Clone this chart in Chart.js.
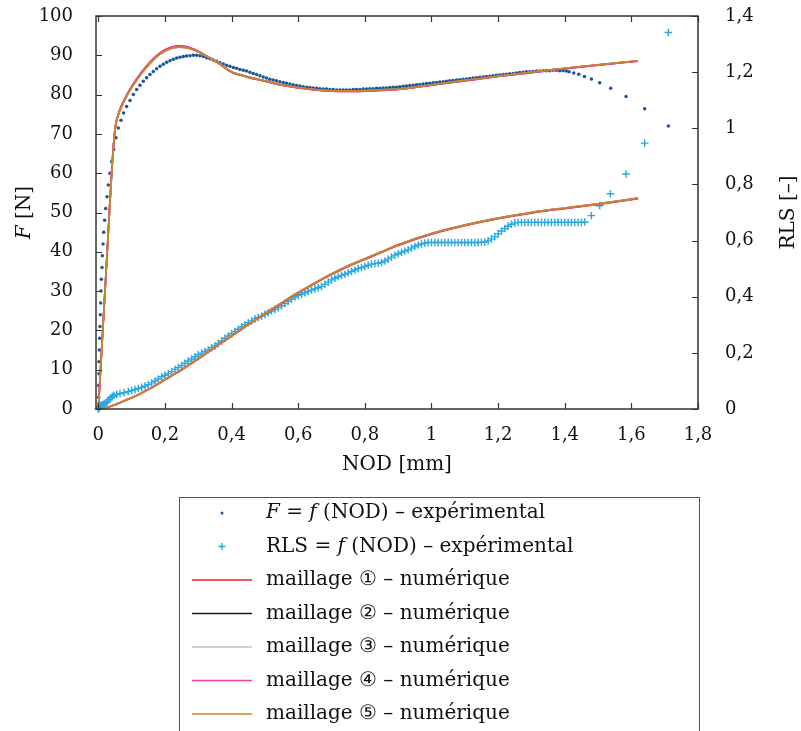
<!DOCTYPE html>
<html>
<head>
<meta charset="utf-8">
<script src="https://cdn.jsdelivr.net/npm/chart.js@4"></script>
<style>
  html, body { margin: 0; padding: 0; background: #fff; }
  #chart { display: block; }
</style>
</head>
<body>
<canvas id="chart" width="801" height="731"></canvas>
<script>
// axis ticks
const xTicks = [0, 0.2, 0.4, 0.6, 0.8, 1, 1.2, 1.4, 1.6, 1.8];
const fTicks = [0, 10, 20, 30, 40, 50, 60, 70, 80, 90, 100];
const rlsTicks = [0, 0.2, 0.4, 0.6, 0.8, 1, 1.2, 1.4];

// experimental F = f(NOD), [NOD mm, F N]
const expForce = [
  [0,0],[0.001,3],[0.001,6],[0.002,9],[0.002,12],[0.003,15],[0.004,18],[0.005,21],[0.006,24],[0.007,27],
  [0.008,30],[0.009,33],[0.011,36],[0.012,39],[0.014,42],[0.016,45],[0.019,48],[0.022,51],[0.026,54],[0.030,57],
  [0.035,60],[0.040,63],[0.046,66],[0.053,69],[0.060,71.5],[0.068,73.5],[0.076,75.3],[0.085,77],[0.095,78.5],
  [0.105,80],[0.115,81.3],[0.125,82.4],[0.135,83.4],[0.145,84.3],[0.155,85.1],[0.165,85.9],[0.175,86.6],
  [0.185,87.2],[0.195,87.7],[0.205,88.2],[0.215,88.6],[0.225,89.0],[0.235,89.3],[0.245,89.5],[0.255,89.7],
  [0.265,89.8],[0.275,89.9],[0.285,90.0],[0.295,90.0],[0.305,89.9],[0.315,89.7],[0.325,89.4],[0.335,89.1],
  [0.345,88.8],[0.355,88.5],[0.365,88.1],[0.375,87.8],[0.385,87.5],[0.395,87.2],[0.405,86.9],[0.415,86.7],
  [0.425,86.4],[0.435,86.2],[0.445,86.0],[0.455,85.7],[0.465,85.4],[0.475,85.1],[0.485,84.8],[0.495,84.5],
  [0.505,84.2],[0.515,83.9],[0.525,83.7],[0.535,83.5],[0.545,83.3],[0.555,83.1],[0.565,82.9],[0.575,82.7],
  [0.585,82.5],[0.595,82.3],[0.605,82.2],[0.615,82.0],[0.625,81.9],[0.635,81.8],[0.645,81.7],[0.655,81.6],
  [0.665,81.5],[0.675,81.4],[0.685,81.4],[0.695,81.3],[0.705,81.3],[0.715,81.2],[0.725,81.2],[0.735,81.2],
  [0.745,81.2],[0.755,81.2],[0.765,81.3],[0.775,81.3],[0.785,81.3],[0.795,81.4],[0.805,81.4],[0.815,81.5],
  [0.825,81.5],[0.835,81.6],[0.845,81.6],[0.855,81.7],[0.865,81.7],[0.875,81.8],[0.885,81.9],[0.895,81.9],
  [0.905,82.0],[0.915,82.1],[0.925,82.2],[0.935,82.3],[0.945,82.4],[0.955,82.5],[0.965,82.6],[0.975,82.7],
  [0.985,82.8],[0.995,82.9],[1.005,83.0],[1.015,83.1],[1.025,83.2],[1.035,83.3],[1.045,83.4],[1.055,83.5],
  [1.065,83.6],[1.075,83.7],[1.085,83.8],[1.095,83.9],[1.105,84.0],[1.115,84.1],[1.125,84.2],[1.135,84.3],
  [1.145,84.4],[1.155,84.5],[1.165,84.6],[1.175,84.7],[1.185,84.8],[1.195,84.9],[1.205,85.0],[1.215,85.1],
  [1.225,85.2],[1.235,85.3],[1.245,85.4],[1.255,85.5],[1.265,85.6],[1.275,85.7],[1.285,85.8],[1.295,85.8],
  [1.305,85.9],[1.315,86.0],[1.325,86.0],[1.335,86.1],[1.345,86.1],[1.355,86.1],[1.365,86.2],[1.375,86.2],
  [1.385,86.1],[1.395,86.1],[1.405,86.0],[1.413,85.8],[1.427,85.5],[1.442,85.2],[1.459,84.6],[1.480,84.0],
  [1.505,83.0],[1.538,81.6],[1.584,79.5],[1.640,76.4],[1.711,72.0]
];

// experimental RLS = f(NOD), [NOD mm, RLS]
const expRls = [
  [0,0],[0.002,0.003],[0.004,0.008],[0.007,0.012],[0.010,0.014],[0.014,0.016],[0.018,0.018],[0.022,0.022],
  [0.027,0.026],[0.032,0.033],[0.037,0.040],[0.042,0.045],[0.047,0.049],[0.055,0.052],[0.065,0.055],
  [0.077,0.058],[0.090,0.062],[0.10,0.066],[0.11,0.069],[0.12,0.073],[0.13,0.077],[0.14,0.082],[0.15,0.087],
  [0.16,0.093],[0.17,0.100],[0.18,0.107],[0.19,0.115],[0.20,0.120],[0.21,0.126],[0.22,0.133],[0.23,0.141],
  [0.24,0.148],[0.25,0.155],[0.26,0.163],[0.27,0.171],[0.28,0.178],[0.29,0.186],[0.30,0.193],[0.31,0.199],
  [0.32,0.205],[0.33,0.211],[0.34,0.218],[0.35,0.225],[0.36,0.233],[0.37,0.242],[0.38,0.252],[0.39,0.260],
  [0.40,0.268],[0.41,0.276],[0.42,0.284],[0.43,0.292],[0.44,0.300],[0.45,0.307],[0.46,0.314],[0.47,0.321],
  [0.48,0.326],[0.49,0.331],[0.50,0.337],[0.51,0.343],[0.52,0.349],[0.53,0.355],[0.54,0.361],[0.55,0.368],
  [0.56,0.376],[0.57,0.384],[0.58,0.392],[0.59,0.399],[0.60,0.404],[0.61,0.409],[0.62,0.414],[0.63,0.419],
  [0.64,0.424],[0.65,0.428],[0.66,0.432],[0.67,0.437],[0.68,0.444],[0.69,0.452],[0.70,0.460],[0.71,0.466],
  [0.72,0.471],[0.73,0.476],[0.74,0.480],[0.75,0.485],[0.76,0.490],[0.77,0.495],[0.78,0.500],[0.79,0.504],
  [0.80,0.508],[0.81,0.512],[0.82,0.516],[0.83,0.518],[0.84,0.519],[0.85,0.522],[0.86,0.527],[0.87,0.534],
  [0.88,0.541],[0.89,0.548],[0.90,0.553],[0.91,0.558],[0.92,0.563],[0.93,0.567],[0.94,0.573],[0.95,0.579],
  [0.96,0.584],[0.97,0.588],[0.98,0.591],[0.99,0.593],[1.00,0.593],[1.01,0.593],[1.02,0.593],[1.03,0.593],
  [1.04,0.593],[1.05,0.593],[1.06,0.593],[1.07,0.593],[1.08,0.593],[1.09,0.593],[1.10,0.593],[1.11,0.593],
  [1.12,0.593],[1.13,0.593],[1.14,0.593],[1.15,0.594],[1.16,0.595],[1.17,0.599],[1.18,0.606],[1.19,0.614],
  [1.20,0.624],[1.21,0.634],[1.22,0.643],[1.23,0.651],[1.24,0.658],[1.25,0.663],[1.26,0.665],[1.27,0.665],
  [1.28,0.665],[1.29,0.665],[1.30,0.665],[1.31,0.665],[1.32,0.665],[1.33,0.665],[1.34,0.665],[1.35,0.665],
  [1.36,0.665],[1.37,0.665],[1.38,0.665],[1.39,0.665],[1.40,0.665],[1.41,0.665],[1.42,0.665],[1.43,0.665],
  [1.44,0.665],[1.45,0.665],[1.46,0.666],[1.48,0.689],[1.505,0.724],[1.537,0.767],[1.584,0.837],
  [1.640,0.947],[1.711,1.341]
];

// numerical results, shared NOD grid
const nodNum = [0,0.01,0.02,0.03,0.04,0.05,0.06,0.08,0.10,0.12,0.14,0.16,0.18,0.20,0.22,0.24,0.26,0.28,0.30,0.32,
  0.34,0.36,0.38,0.40,0.42,0.45,0.50,0.55,0.60,0.65,0.70,0.75,0.80,0.85,0.90,1.0,1.1,1.2,1.3,1.4,1.5,1.62];

const forceM1 = [0,15,30,45.5,60.5,71.3,75.1,79.1,82.1,84.6,86.8,88.7,90.3,91.4,92.1,92.4,92.3,91.8,91.0,90.0,
  89.0,88.0,86.8,85.7,85.1,84.4,83.4,82.4,81.7,81.2,80.9,80.8,80.9,81.1,81.3,82.4,83.5,84.6,85.6,86.6,87.5,88.5];
const forceM2 = [0,15,30,45,60,71,74.8,78.8,81.8,84.3,86.5,88.4,90.0,91.1,91.8,92.1,92.0,91.6,90.9,90.0,
  89.1,88.1,86.9,85.8,85.2,84.5,83.5,82.5,81.8,81.3,81.0,80.9,81.0,81.2,81.4,82.5,83.6,84.7,85.7,86.7,87.6,88.6];
const forceM3 = [0,15,30,45,60,71,74.8,78.8,81.8,84.3,86.5,88.4,90.0,91.1,91.8,92.1,92.0,91.6,90.9,90.0,
  89.1,88.1,86.9,85.8,85.2,84.5,83.5,82.5,81.8,81.3,81.0,80.9,81.0,81.2,81.4,82.5,83.6,84.7,85.7,86.7,87.6,88.6];
const forceM4 = [0,15,30,45.3,60.3,71.2,75.0,79.0,82.0,84.5,86.7,88.6,90.2,91.3,92.0,92.3,92.2,91.7,91.0,90.0,
  89.0,88.0,86.8,85.7,85.1,84.4,83.4,82.4,81.7,81.2,80.9,80.8,80.9,81.1,81.3,82.4,83.5,84.6,85.6,86.6,87.5,88.5];
const forceM5 = [0,15,30,45,60,71,74.8,78.8,81.8,84.3,86.5,88.4,90.0,91.1,91.8,92.1,92.0,91.6,90.9,90.0,
  89.1,88.1,86.9,85.8,85.2,84.5,83.5,82.5,81.8,81.3,81.0,80.9,81.0,81.2,81.4,82.5,83.6,84.7,85.7,86.7,87.6,88.6];

const rlsM1 = [0,0.001,0.004,0.007,0.011,0.015,0.020,0.030,0.040,0.051,0.063,0.076,0.090,0.104,0.118,0.132,0.147,
  0.163,0.178,0.194,0.211,0.228,0.244,0.260,0.276,0.300,0.338,0.376,0.413,0.447,0.479,0.508,0.533,0.558,0.583,
  0.623,0.653,0.678,0.698,0.714,0.729,0.749];
const rlsM2 = [0,0.001,0.004,0.007,0.011,0.015,0.020,0.030,0.040,0.051,0.063,0.076,0.090,0.105,0.119,0.133,0.148,
  0.164,0.180,0.196,0.213,0.230,0.246,0.262,0.278,0.302,0.340,0.378,0.415,0.449,0.481,0.510,0.535,0.560,0.585,
  0.625,0.655,0.680,0.700,0.716,0.731,0.751];
const rlsM3 = [0,0.001,0.004,0.007,0.011,0.015,0.020,0.030,0.040,0.051,0.063,0.076,0.090,0.105,0.119,0.133,0.148,
  0.164,0.180,0.196,0.213,0.230,0.246,0.262,0.278,0.302,0.340,0.378,0.415,0.449,0.481,0.510,0.535,0.560,0.585,
  0.625,0.655,0.680,0.700,0.716,0.731,0.751];
const rlsM4 = [0,0.001,0.004,0.007,0.011,0.015,0.020,0.030,0.040,0.051,0.063,0.076,0.090,0.104,0.118,0.132,0.147,
  0.163,0.179,0.195,0.212,0.229,0.245,0.261,0.277,0.301,0.339,0.377,0.414,0.448,0.480,0.509,0.534,0.559,0.584,
  0.624,0.654,0.679,0.699,0.715,0.730,0.750];
const rlsM5 = [0,0.001,0.004,0.007,0.011,0.015,0.020,0.030,0.040,0.051,0.063,0.076,0.090,0.105,0.119,0.133,0.148,
  0.164,0.180,0.196,0.213,0.230,0.246,0.262,0.278,0.302,0.340,0.378,0.415,0.449,0.481,0.510,0.535,0.560,0.585,
  0.625,0.655,0.680,0.700,0.716,0.731,0.751];

const meshLabels = ['maillage ① – numérique', 'maillage ② – numérique', 'maillage ③ – numérique',
  'maillage ④ – numérique', 'maillage ⑤ – numérique'];
const meshColors = ['#ec1c24', '#1a1a1a', '#c4c4c4', '#f0409a', '#c8862a'];
const meshForce = [forceM1, forceM2, forceM3, forceM4, forceM5];
const meshRls = [rlsM1, rlsM2, rlsM3, rlsM4, rlsM5];

const DOT_COLOR = '#1a5699';
const CROSS_COLOR = '#2aa8e0';
const AXIS_COLOR = '#333';
const SERIF = '"DejaVu Serif", serif';

const toPts = arr => arr.map(p => ({ x: p[0], y: p[1] }));
const zipPts = (xs, ys) => xs.map((x, i) => ({ x: x, y: ys[i] }));
const fmt = v => String(v).replace('.', ',');

const datasets = [
    {
        label: 'F = f (NOD) – expérimental',
        data: toPts(expForce),
        yAxisID: 'y',
        showLine: false,
        pointStyle: 'circle',
        pointRadius: 1.75,
        pointBorderWidth: 0,
        backgroundColor: DOT_COLOR,
        borderColor: DOT_COLOR,
        order: 7,
        kind: 'dot'
    },
    {
        label: 'RLS = f (NOD) – expérimental',
        data: toPts(expRls),
        yAxisID: 'y2',
        showLine: false,
        pointStyle: 'cross',
        pointRadius: 3.8,
        pointBorderWidth: 1.4,
        backgroundColor: CROSS_COLOR,
        borderColor: CROSS_COLOR,
        order: 6,
        clip: false,
        kind: 'cross'
    }
];

// one legend entry per mesh, F and RLS drawn with the same style
meshLabels.forEach((lab, i) => {
    datasets.push({
        label: lab,
        data: zipPts(nodNum, meshForce[i]),
        yAxisID: 'y',
        showLine: true,
        pointRadius: 0,
        borderWidth: 1.7,
        borderColor: meshColors[i],
        backgroundColor: meshColors[i],
        cubicInterpolationMode: 'monotone',
        order: 5 - i,
        kind: 'line'
    });
    datasets.push({
        label: lab,
        data: zipPts(nodNum, meshRls[i]),
        yAxisID: 'y2',
        showLine: true,
        pointRadius: 0,
        borderWidth: 1.7,
        borderColor: meshColors[i],
        backgroundColor: meshColors[i],
        cubicInterpolationMode: 'monotone',
        order: 5 - i,
        kind: 'line',
        noLegend: true
    });
});

// text with lone F / f set in italics
function richText(ctx, text, x, y, size) {
    const parts = text.split(/(\b[Ff]\b)/);
    parts.forEach(p => {
        if (!p) return;
        const it = /^[Ff]$/.test(p);
        ctx.font = (it ? 'italic ' : '') + size + 'px ' + SERIF;
        ctx.fillText(p, x, y);
        x += ctx.measureText(p).width;
    });
    return x;
}

function textWidth(ctx, text, size) {
    let w = 0;
    text.split(/(\b[Ff]\b)/).forEach(p => {
        if (!p) return;
        ctx.font = (/^[Ff]$/.test(p) ? 'italic ' : '') + size + 'px ' + SERIF;
        w += ctx.measureText(p).width;
    });
    return w;
}

// labels of the y axes may overhang the plot, no extra room needed
function noPad(s, width) {
    s.width = width;
    s.paddingTop = 0;
    s.paddingBottom = 0;
}

const framePlugin = {
    id: 'frame',
    afterDatasetsDraw(chart) {
        const ctx = chart.ctx;
        const a = chart.chartArea;
        const sx = chart.scales.x, sy = chart.scales.y, sr = chart.scales.y2;
        const tl = 6;
        ctx.save();
        ctx.strokeStyle = AXIS_COLOR;
        ctx.lineWidth = 1.5;
        ctx.strokeRect(a.left, a.top, a.right - a.left, a.bottom - a.top);
        ctx.lineWidth = 1.2;
        ctx.beginPath();
        xTicks.forEach(v => {
            const px = Math.round(sx.getPixelForValue(v)) + 0.5;
            ctx.moveTo(px, a.bottom); ctx.lineTo(px, a.bottom - tl);
            ctx.moveTo(px, a.top); ctx.lineTo(px, a.top + tl);
        });
        fTicks.forEach(v => {
            const py = Math.round(sy.getPixelForValue(v)) + 0.5;
            ctx.moveTo(a.left, py); ctx.lineTo(a.left + tl, py);
        });
        rlsTicks.forEach(v => {
            const py = Math.round(sr.getPixelForValue(v)) + 0.5;
            ctx.moveTo(a.right, py); ctx.lineTo(a.right - tl, py);
        });
        ctx.stroke();
        ctx.restore();
    },
    afterDraw(chart) {
        const ctx = chart.ctx;
        const a = chart.chartArea;
        const midY = (a.top + a.bottom) / 2;
        ctx.save();
        ctx.fillStyle = '#111';
        ctx.textBaseline = 'middle';

        // axis titles
        let w = textWidth(ctx, 'NOD [mm]', 20);
        richText(ctx, 'NOD [mm]', (a.left + a.right) / 2 - w / 2, 465, 20);

        ctx.save();
        ctx.translate(25, midY);
        ctx.rotate(-Math.PI / 2);
        w = textWidth(ctx, 'F [N]', 20);
        richText(ctx, 'F [N]', -w / 2, 0, 20);
        ctx.restore();

        ctx.save();
        ctx.translate(789, midY);
        ctx.rotate(-Math.PI / 2);
        w = textWidth(ctx, 'RLS [–]', 20);
        richText(ctx, 'RLS [–]', -w / 2, 0, 20);
        ctx.restore();

        // legend box
        ctx.strokeStyle = '#555';
        ctx.lineWidth = 1;
        ctx.strokeRect(179.5, 497.5, 520, 260);

        const rowY0 = 513, rowH = 33.5;
        const symL = 192, symR = 252, textX = 266;
        let row = 0;
        chart.data.datasets.forEach(ds => {
            if (ds.noLegend) return;
            const y = rowY0 + row * rowH;
            const cx = (symL + symR) / 2;
            if (ds.kind === 'dot') {
                ctx.fillStyle = ds.backgroundColor;
                ctx.beginPath();
                ctx.arc(cx, y, 1.5, 0, Math.PI * 2);
                ctx.fill();
            } else if (ds.kind === 'cross') {
                ctx.strokeStyle = ds.borderColor;
                ctx.lineWidth = 1.3;
                ctx.beginPath();
                ctx.moveTo(cx - 3.5, y); ctx.lineTo(cx + 3.5, y);
                ctx.moveTo(cx, y - 3.5); ctx.lineTo(cx, y + 3.5);
                ctx.stroke();
            } else {
                ctx.strokeStyle = ds.borderColor;
                ctx.lineWidth = 1.7;
                ctx.beginPath();
                ctx.moveTo(symL, y); ctx.lineTo(symR, y);
                ctx.stroke();
            }
            ctx.fillStyle = '#111';
            richText(ctx, ds.label, textX, y, 20);
            row++;
        });
        ctx.restore();
    }
};

new Chart(document.getElementById('chart'), {
    type: 'scatter',
    data: { datasets: datasets },
    options: {
        responsive: false,
        animation: false,
        devicePixelRatio: 1,
        layout: { autoPadding: false, padding: { top: 16, left: 0, right: 0, bottom: 0 } },
        plugins: {
            legend: { display: false },
            tooltip: { enabled: false }
        },
        scales: {
            x: {
                type: 'linear',
                min: -0.007,
                max: 1.8,
                grid: { display: false },
                border: { display: false },
                afterBuildTicks: s => { s.ticks = xTicks.map(v => ({ value: v })); },
                afterFit: s => { s.height = 322; s.paddingLeft = 0; s.paddingRight = 0; },
                ticks: {
                    padding: 8,
                    color: '#111',
                    font: { family: SERIF, size: 18 },
                    maxRotation: 0,
                    callback: v => fmt(v)
                }
            },
            y: {
                type: 'linear',
                position: 'left',
                min: 0,
                max: 100,
                grid: { display: false },
                border: { display: false },
                afterBuildTicks: s => { s.ticks = fTicks.map(v => ({ value: v })); },
                afterFit: s => noPad(s, 96),
                ticks: {
                    padding: 15,
                    color: '#111',
                    font: { family: SERIF, size: 18 },
                    callback: v => fmt(v)
                }
            },
            y2: {
                type: 'linear',
                position: 'right',
                min: 0,
                max: 1.4,
                grid: { display: false },
                border: { display: false },
                afterBuildTicks: s => { s.ticks = rlsTicks.map(v => ({ value: v })); },
                afterFit: s => noPad(s, 103),
                ticks: {
                    padding: 19,
                    color: '#111',
                    font: { family: SERIF, size: 18 },
                    callback: v => fmt(v)
                }
            }
        }
    },
    plugins: [framePlugin]
});
</script>
</body>
</html>
